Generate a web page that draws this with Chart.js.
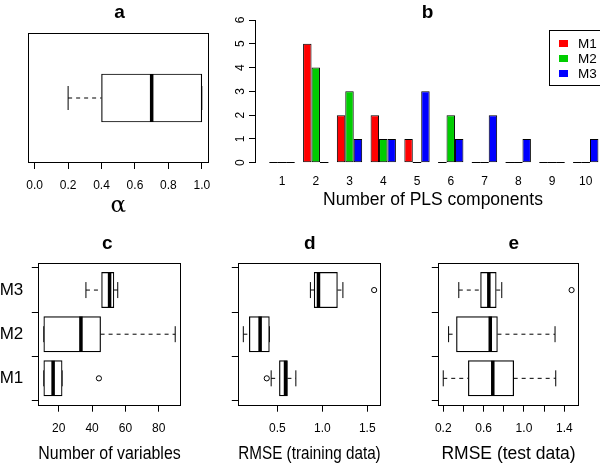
<!DOCTYPE html>
<html>
<head>
<meta charset="utf-8">
<script src="https://cdn.jsdelivr.net/npm/chart.js@4.4.1/dist/chart.umd.min.js"></script>
<style>
  html, body { margin: 0; padding: 0; background: #fff; }
  #wrap { position: relative; width: 600px; height: 464px; overflow: hidden; background: #fff; }
  canvas { position: absolute; left: 0; top: 0; }
</style>
</head>
<body>
<div id="wrap">
  <canvas id="pa" width="600" height="464"></canvas>
  <canvas id="pb" width="611" height="464"></canvas>
  <canvas id="pc" width="600" height="464"></canvas>
  <canvas id="pd" width="600" height="464"></canvas>
  <canvas id="pe" width="600" height="464"></canvas>
</div>
<script>
// ---------------- DATA ----------------
// Panel a: five-number summary of alpha [min, q1, median, q3, max]
const alphaBox = [0.2, 0.4, 0.7, 1.0, 1.0];
const alphaTicks = [0, 0.2, 0.4, 0.6, 0.8, 1.0];
const alphaTickLabels = ['0.0', '0.2', '0.4', '0.6', '0.8', '1.0'];

// Panel b: histogram of number of PLS components
const plsComponents = [1, 2, 3, 4, 5, 6, 7, 8, 9, 10];
const countM1 = [0, 5, 2, 2, 1, 0, 0, 0, 0, 0];
const countM2 = [0, 4, 3, 1, 0, 2, 0, 0, 0, 0];
const countM3 = [0, 0, 1, 1, 3, 1, 2, 1, 0, 1];
const countTicks = [0, 1, 2, 3, 4, 5, 6];

// Panels c-e: methods and five-number summaries [min, q1, median, q3, max]
const methods = ['M1', 'M2', 'M3'];
const methodPos = [1, 2, 3];

const nVarsBox = [
  [11, 11, 16.6, 22, 22],
  [11, 11, 33.3, 45.1, 89.9],
  [36.3, 45.7, 50.5, 53.1, 55.4]
];
const nVarsOutliers = [[44.1], [], []];
const nVarsTicks = [20, 40, 60, 80];
const nVarsTickLabels = ['20', '40', '60', '80'];

const rmseTrainBox = [
  [0.43, 0.522, 0.59, 0.611, 0.705],
  [0.12, 0.187, 0.307, 0.41, 0.41],
  [0.867, 0.909, 0.957, 1.168, 1.229]
];
const rmseTrainOutliers = [[0.381], [], [1.577]];
const rmseTrainTicks = [0.5, 1.0, 1.5];
const rmseTrainTickLabels = ['0.5', '1.0', '1.5'];

const rmseTestBox = [
  [0.2, 0.449, 0.691, 0.898, 1.315],
  [0.253, 0.331, 0.666, 0.737, 1.308],
  [0.354, 0.570, 0.652, 0.725, 0.78]
];
const rmseTestOutliers = [[], [], [1.472]];
const rmseTestTicks = [0.2, 0.4, 0.6, 0.8, 1.0, 1.2, 1.4];
const rmseTestTickLabels = ['0.2', '', '0.6', '', '1.0', '', '1.4'];

// ---------------- COMMON ----------------
const FONT = '"Liberation Sans", Arial, Helvetica, sans-serif';
Chart.defaults.font.family = FONT;
Chart.defaults.color = '#000';
Chart.defaults.animation = false;
Chart.defaults.events = [];
Chart.defaults.plugins.legend.display = false;
Chart.defaults.plugins.tooltip.enabled = false;
Chart.defaults.plugins.title.display = false;

const W = 600, H = 464;

// plugin drawing the panel letter
function titlePlugin(text, x, y) {
  return {
    id: 'panelTitle',
    afterDraw(chart) {
      const ctx = chart.ctx;
      ctx.save();
      ctx.font = 'bold 19px ' + FONT;
      ctx.fillStyle = '#000';
      ctx.textAlign = 'center';
      ctx.textBaseline = 'alphabetic';
      ctx.fillText(text, x, y);
      ctx.restore();
    }
  };
}

// plugin drawing the frame around the plot region
const framePlugin = {
  id: 'frame',
  afterDatasetsDraw(chart) {
    const a = chart.chartArea, ctx = chart.ctx;
    ctx.save();
    ctx.strokeStyle = '#000';
    ctx.lineWidth = 1;
    const l = Math.round(a.left) + 0.5, t = Math.round(a.top) + 0.5;
    const r = Math.round(a.right) - 0.5, b = Math.round(a.bottom) - 0.5;
    ctx.strokeRect(l, t, r - l, b - t);
    ctx.restore();
  }
};

function boxDatasets(stats, outliers, pos, thick, capR) {
  const ds = [];
  stats.forEach((s, i) => {
    const y = pos[i];
    ds.push({ type: 'line', data: [{ x: s[0], y }, { x: s[1], y }], borderColor: '#000', borderWidth: 1,
      borderDash: [4, 4], pointRadius: 0, fill: false, tension: 0, order: 6 });
    ds.push({ type: 'line', data: [{ x: s[3], y }, { x: s[4], y }], borderColor: '#000', borderWidth: 1,
      borderDash: [4, 4], pointRadius: 0, fill: false, tension: 0, order: 6 });
  });
  ds.push({ type: 'scatter',
    data: stats.flatMap((s, i) => [{ x: s[0], y: pos[i] }, { x: s[4], y: pos[i] }]),
    pointStyle: 'line', pointRotation: 90, pointRadius: capR, pointBorderColor: '#000', pointBorderWidth: 1, order: 5 });
  ds.push({ type: 'bar', indexAxis: 'y',
    data: stats.map((s, i) => ({ x: [s[1], s[3]], y: pos[i] })),
    backgroundColor: '#fff', borderColor: '#000', borderWidth: 1.2, borderSkipped: false,
    barThickness: thick, order: 4 });
  ds.push({ type: 'scatter',
    data: stats.map((s, i) => ({ x: s[2], y: pos[i] })),
    pointStyle: 'line', pointRotation: 90, pointRadius: thick / 2, pointBorderColor: '#000', pointBorderWidth: 3.5, order: 3 });
  ds.push({ type: 'scatter',
    data: outliers.flatMap((o, i) => o.map(v => ({ x: v, y: pos[i] }))),
    pointStyle: 'circle', pointRadius: 2.6, pointBorderColor: '#000', pointBackgroundColor: '#fff', pointBorderWidth: 1, order: 2 });
  return ds;
}

function boxPanel(id, p) {
  const yW = p.yW;
  new Chart(document.getElementById(id), {
    type: 'scatter',
    data: { datasets: boxDatasets(p.stats, p.outliers, p.pos, p.thick, p.capR) },
    options: {
      responsive: false,
      animation: false,
      layout: { padding: { left: p.L - (p.yDisplay ? yW : 0), right: W - p.R, top: p.T, bottom: H - p.B - p.xH } },
      scales: {
        x: {
          type: 'linear', min: p.xmin, max: p.xmax, offset: false,
          afterBuildTicks: s => { s.ticks = p.xTicks.map(v => ({ value: v })); },
          ticks: { font: { size: 12 }, padding: 9.9, autoSkip: false, maxRotation: 0, minRotation: 0,
                   callback: (v, i) => p.xTickLabels[i] },
          grid: { display: true, drawOnChartArea: false, drawTicks: true, tickLength: 6, color: '#000', lineWidth: 1 },
          border: { display: false },
          title: { display: true, text: p.xTitle, font: p.xTitleFont, padding: { top: 0, bottom: 0 } },
          afterFit: s => { s.height = p.xH; }
        },
        y: {
          type: 'linear', display: p.yDisplay, min: p.ymin, max: p.ymax, offset: false,
          afterBuildTicks: s => { s.ticks = p.pos.map(v => ({ value: v })); },
          ticks: { display: !!p.yLabels, font: { size: 17 }, padding: 8.5, autoSkip: false,
                   callback: (v, i) => p.yLabels ? p.yLabels[i] : '' },
          grid: { display: true, drawOnChartArea: false, drawTicks: true, tickLength: 6.5, color: '#000', lineWidth: 1 },
          border: { display: false },
          afterFit: s => { s.width = yW; }
        }
      }
    },
    plugins: [framePlugin, titlePlugin(p.title, p.titleX, p.titleY)]
  });
}

// ---------------- PANEL a ----------------
boxPanel('pa', {
  stats: [alphaBox], outliers: [[]], pos: [1], thick: 48, capR: 12,
  L: 24.3, R: 209, T: 33, B: 163, xH: 54.5, yW: 0, yDisplay: false,
  xmin: -0.043, xmax: 1.043, ymin: 0.5, ymax: 1.5,
  xTicks: alphaTicks, xTickLabels: alphaTickLabels,
  xTitle: 'α', xTitleFont: { size: 23, family: '"DejaVu Serif", "Liberation Serif", serif', lineHeight: 1 },
  title: 'a', titleX: 119.5, titleY: 18.3
});

// ---------------- PANEL b ----------------
const barColors = ['#FF0000', '#00CD00', '#0000FF'];
const barSeries = [countM1, countM2, countM3];

const zeroBarPlugin = {
  id: 'zeroBars',
  afterDatasetsDraw(chart) {
    const ctx = chart.ctx;
    ctx.save();
    ctx.strokeStyle = '#000';
    ctx.lineWidth = 1;
    chart.data.datasets.forEach((ds, di) => {
      chart.getDatasetMeta(di).data.forEach((el, j) => {
        if (ds.data[j].y === 0) {
          const pr = el.getProps(['x', 'width', 'base'], true);
          const yy = Math.round(pr.base) - 0.5;
          ctx.beginPath();
          ctx.moveTo(pr.x - pr.width / 2, yy);
          ctx.lineTo(pr.x + pr.width / 2, yy);
          ctx.stroke();
        }
      });
    });
    ctx.restore();
  }
};

const legendBoxPlugin = {
  id: 'legendBox',
  afterDraw(chart) {
    const ctx = chart.ctx;
    ctx.save();
    ctx.strokeStyle = '#000';
    ctx.lineWidth = 1;
    ctx.strokeRect(549.5, 30.5, 60, 55);
    ctx.font = '13.5px ' + FONT;
    ctx.textAlign = 'left';
    ctx.textBaseline = 'middle';
    chart.data.datasets.forEach((ds, i) => {
      const cy = 43.5 + i * 15;
      ctx.fillStyle = ds.backgroundColor;
      ctx.fillRect(559, cy - 3.5, 9, 7);
      ctx.fillStyle = '#000';
      ctx.fillText(ds.label, 578, cy + 0.5);
    });
    ctx.restore();
  }
};

new Chart(document.getElementById('pb'), {
  type: 'bar',
  data: {
    datasets: methods.map((m, k) => ({
      label: m,
      data: plsComponents.map((c, i) => ({ x: c, y: barSeries[k][i] })),
      backgroundColor: barColors[k],
      borderColor: '#000',
      borderWidth: 1,
      borderSkipped: false,
      categoryPercentage: 0.75,
      barPercentage: 1.0
    }))
  },
  options: {
    responsive: false,
    animation: false,
    layout: { padding: { left: 255 - 30, right: 0, top: 20, bottom: H - 162.7 - 46.4 } },
    scales: {
      x: {
        type: 'linear', min: 0.2, max: 10.748, offset: false,
        afterBuildTicks: s => { s.ticks = plsComponents.map(v => ({ value: v })); },
        ticks: { font: { size: 12 }, padding: 11.9, autoSkip: false, maxRotation: 0, minRotation: 0,
                 callback: v => String(v) },
        grid: { display: false, drawTicks: false },
        border: { display: false },
        title: { display: true, text: 'Number of PLS components', font: { size: 17.5, lineHeight: 1 }, padding: { top: 0, bottom: 0 } },
        afterFit: s => { s.height = 46.4; }
      },
      y: {
        type: 'linear', min: 0, max: 6,
        afterBuildTicks: s => { s.ticks = countTicks.map(v => ({ value: v })); },
        ticks: { font: { size: 12 }, minRotation: 90, maxRotation: 90, crossAlign: 'center', padding: 5, autoSkip: false },
        grid: { display: true, drawOnChartArea: false, drawTicks: true, tickLength: 6, color: '#000', lineWidth: 1 },
        border: { display: true, color: '#000', width: 1 },
        afterFit: s => { s.width = 30; }
      }
    }
  },
  plugins: [zeroBarPlugin, legendBoxPlugin, titlePlugin('b', 427.5, 18.3)]
});

// ---------------- PANELS c, d, e ----------------
const lowerCommon = { pos: methodPos, thick: 35.3, capR: 8, T: 262.7, B: 405.7, xH: 57.65,
  ymin: 0.38, ymax: 3.62, yDisplay: true,
  xTitleFont: { size: 17.5, lineHeight: 1 } };

boxPanel('pc', Object.assign({}, lowerCommon, {
  stats: nVarsBox, outliers: nVarsOutliers, L: 38.3, R: 180.7, yW: 38.3, yLabels: methods,
  xmin: 7.7, xmax: 93.2, xTicks: nVarsTicks, xTickLabels: nVarsTickLabels,
  xTitle: 'Number of variables', title: 'c', titleX: 107.2, titleY: 249.3
}));

boxPanel('pd', Object.assign({}, lowerCommon, {
  stats: rmseTrainBox, outliers: rmseTrainOutliers, L: 238.3, R: 380.7, yW: 12, yLabels: null,
  xmin: 0.064, xmax: 1.65, xTicks: rmseTrainTicks, xTickLabels: rmseTrainTickLabels,
  xTitle: 'RMSE (training data)', title: 'd', titleX: 309.8, titleY: 249.3
}));

boxPanel('pe', Object.assign({}, lowerCommon, {
  stats: rmseTestBox, outliers: rmseTestOutliers, L: 438.3, R: 580, yW: 12, yLabels: null,
  xmin: 0.151, xmax: 1.544, xTicks: rmseTestTicks, xTickLabels: rmseTestTickLabels,
  xTitle: 'RMSE (test data)', title: 'e', titleX: 513.7, titleY: 249.3
}));
</script>
</body>
</html>
